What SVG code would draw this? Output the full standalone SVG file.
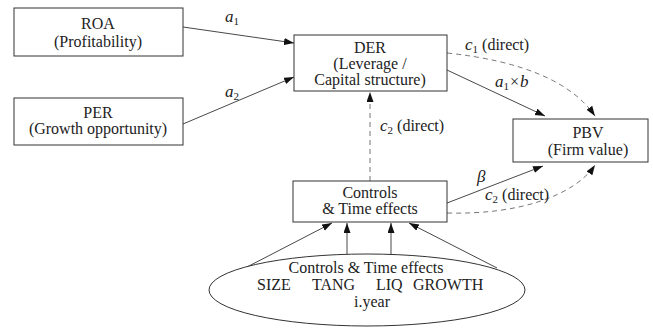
<svg xmlns="http://www.w3.org/2000/svg" width="653" height="329" viewBox="0 0 653 329" font-family="'Liberation Serif','Times New Roman',serif">
<style>
.box{fill:#fff;stroke:#333;stroke-width:1}
.t{font-family:"Liberation Serif","Times New Roman",serif;font-size:16px;fill:#222;text-anchor:middle}
.lbl{font-family:"Liberation Serif","Times New Roman",serif;font-size:16px;fill:#222}
.m{font-style:italic;font-size:17px}
.sub{font-size:11px}
.solid{fill:none;stroke:#333;stroke-width:0.9}
.dash{fill:none;stroke:#666;stroke-width:0.9;stroke-dasharray:5,4}
</style>
<defs>
<marker id="ah" markerUnits="userSpaceOnUse" markerWidth="10" markerHeight="8" refX="10" refY="3.5" orient="auto">
<path d="M0,0 L10,3.5 L0,7 z" fill="#111"/>
</marker>
</defs>
<rect width="653" height="329" fill="#fff"/>
<g id="connectors">
<line class="solid" x1="183" y1="27" x2="294" y2="43" marker-end="url(#ah)"/>
<line class="solid" x1="183" y1="124" x2="294" y2="77" marker-end="url(#ah)"/>
<line class="solid" x1="447" y1="70" x2="545" y2="116" marker-end="url(#ah)"/>
<path class="dash" d="M447,53 Q560,65 595,116" marker-end="url(#ah)"/>
<line class="dash" x1="370" y1="181" x2="370" y2="92" marker-end="url(#ah)"/>
<line class="solid" x1="447" y1="203" x2="543" y2="166" marker-end="url(#ah)"/>
<path class="dash" d="M447,213 C520,215 575,195 595,165" marker-end="url(#ah)"/>
<line class="solid" x1="247" y1="267" x2="332" y2="223" marker-end="url(#ah)"/>
<line class="solid" x1="347" y1="254" x2="347" y2="223" marker-end="url(#ah)"/>
<line class="solid" x1="391" y1="254" x2="391" y2="223" marker-end="url(#ah)"/>
<line class="solid" x1="497" y1="268" x2="409" y2="223" marker-end="url(#ah)"/>
<text class="lbl" x="225" y="22"><tspan class="m">a</tspan><tspan class="sub" dy="3">1</tspan></text>
<text class="lbl" x="225" y="97"><tspan class="m">a</tspan><tspan class="sub" dy="3">2</tspan></text>
<text class="lbl" x="465" y="50"><tspan class="m">c</tspan><tspan class="sub" dy="3">1</tspan><tspan dy="-3"> (direct)</tspan></text>
<text class="lbl" x="495" y="87"><tspan class="m">a</tspan><tspan class="sub" dy="3">1</tspan><tspan dy="-3" dx="1">×</tspan><tspan class="m" dx="1">b</tspan></text>
<text class="lbl" x="380" y="131"><tspan class="m">c</tspan><tspan class="sub" dy="3">2</tspan><tspan dy="-3"> (direct)</tspan></text>
<text class="lbl" x="477" y="182"><tspan class="m">β</tspan></text>
<text class="lbl" x="485" y="200"><tspan class="m">c</tspan><tspan class="sub" dy="3">2</tspan><tspan dy="-3"> (direct)</tspan></text>
</g>
<g id="roa">
<rect class="box" x="14" y="8" width="169" height="48"/>
<text class="t" x="98" y="29">ROA</text>
<text class="t" x="98" y="47">(Profitability)</text>
</g>
<g id="per">
<rect class="box" x="14" y="98" width="169" height="47"/>
<text class="t" x="98" y="118">PER</text>
<text class="t" x="98" y="134">(Growth opportunity)</text>
</g>
<g id="der">
<rect class="box" x="294" y="35" width="153" height="56"/>
<text class="t" x="370" y="53">DER</text>
<text class="t" x="370" y="69">(Leverage /</text>
<text class="t" x="370" y="85">Capital structure)</text>
</g>
<g id="pbv">
<rect class="box" x="513" y="119" width="135" height="43"/>
<text class="t" x="588" y="138">PBV</text>
<text class="t" x="588" y="155">(Firm value)</text>
</g>
<g id="controls">
<rect class="box" x="293" y="181" width="154" height="41"/>
<text class="t" x="370" y="198">Controls</text>
<text class="t" x="370" y="214">&amp; Time effects</text>
</g>
<g id="controls-set">
<ellipse cx="367" cy="290" rx="158" ry="36" fill="#fff" stroke="#333" stroke-width="1"/>
<text class="t" x="366" y="273">Controls &amp; Time effects</text>
<text class="lbl" x="257" y="290">SIZE</text>
<text class="lbl" x="312" y="290">TANG</text>
<text class="lbl" x="376" y="290">LIQ</text>
<text class="lbl" x="413" y="290">GROWTH</text>
<text class="t" x="372" y="307">i.year</text>
</g>
</svg>
